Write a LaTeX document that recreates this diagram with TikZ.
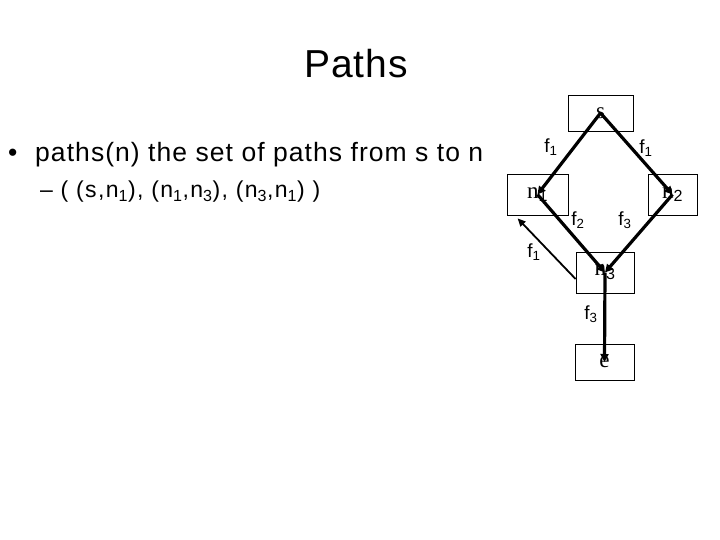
\documentclass[tikz,border=0pt]{standalone}
\usepackage{fontspec}
\setmainfont{Liberation Sans}
\newfontfamily\serf{Liberation Serif}
\newfontfamily\sansf{Liberation Sans}
\newfontfamily\titlef[LetterSpace=2.5]{Liberation Sans}
\newfontfamily\bulf[LetterSpace=4]{Liberation Sans}
\newfontfamily\subf[LetterSpace=6]{Liberation Sans}
\usetikzlibrary{arrows.meta,calc}
\begin{document}
\begin{tikzpicture}[x=1pt,y=-1pt,
  box/.style={draw,line width=0.8pt,inner sep=0pt},
  conn/.style={line width=3.2pt,-{Triangle[length=8pt,width=8pt]}},
  thinconn/.style={line width=1.8pt,-{Triangle[length=8pt,width=7pt]}},
  lab/.style={font=\fontsize{19}{19}\selectfont,inner sep=0pt},
  btxt/.style={inner sep=0pt,font=\fontsize{23}{23}\selectfont},
  txt/.style={anchor=base west,inner sep=0pt}]
\useasboundingbox (0,0) rectangle (720,540);
% title and text
\node[txt,font=\titlef\fontsize{39}{39}\selectfont] (title) at (304,78) {Paths};
\node[txt,font=\bulf\fontsize{26.5}{26.5}\selectfont] (bul) at (8,162) {•};
\node[txt,font=\bulf\fontsize{26.5}{26.5}\selectfont] (l1) at (35,162) {paths(n) the set of paths from s to n};
\node[txt,font=\subf\fontsize{23}{23}\selectfont] (l2) at (40,198) {– ( (s,n\textsubscript{1}), (n\textsubscript{1},n\textsubscript{3}), (n\textsubscript{3},n\textsubscript{1}) )};
% boxes
\node[box,minimum width=65pt,minimum height=36pt] (s) at (600.5,113) {};
\node[box,minimum width=61pt,minimum height=41pt] (n1) at (537.5,194.5) {};
\node[box,minimum width=49pt,minimum height=41pt] (n2) at (672.5,194.5) {};
\node[box,minimum width=58pt,minimum height=41pt] (n3) at (605,272.5) {};
\node[box,minimum width=59pt,minimum height=36pt] (e) at (604.5,362) {};
% box texts
\node[btxt] (st) at (s.center) {\serf s};
\node[btxt] (n1t) at (n1.center) {\serf n\textsubscript{\sansf 1}};
\node[btxt] (n2t) at (n2.center) {\serf n\textsubscript{\sansf 2}};
\node[btxt] (n3t) at (n3.center) {\serf n\textsubscript{\sansf 3}};
\node[btxt] (et) at (e.center) {\serf e};
% connectors
\draw[conn] (s.center) -- (n1.center);
\draw[conn] (s.center) -- (n2.center);
\draw[conn] (n1.center) -- (n3.center);
\draw[conn] (n2.center) -- (n3.center);
\draw[conn] (n3.center) -- (e.center);
\coordinate (a) at ($(n3.west)+(0,6.5)$);
\coordinate (b) at ($(n1.south west)+(11,3)$);
\draw[thinconn] (a) -- (b);
% labels
\node[lab] (f1a) at (551,147) {f\textsubscript{1}};
\node[lab] (f1b) at (646,148) {f\textsubscript{1}};
\node[lab] (f2) at (578,220) {f\textsubscript{2}};
\node[lab] (f3a) at (625,220) {f\textsubscript{3}};
\node[lab] (f1c) at (534,252) {f\textsubscript{1}};
\node[lab] (f3b) at (591,314) {f\textsubscript{3}};
\end{tikzpicture}
\end{document}
